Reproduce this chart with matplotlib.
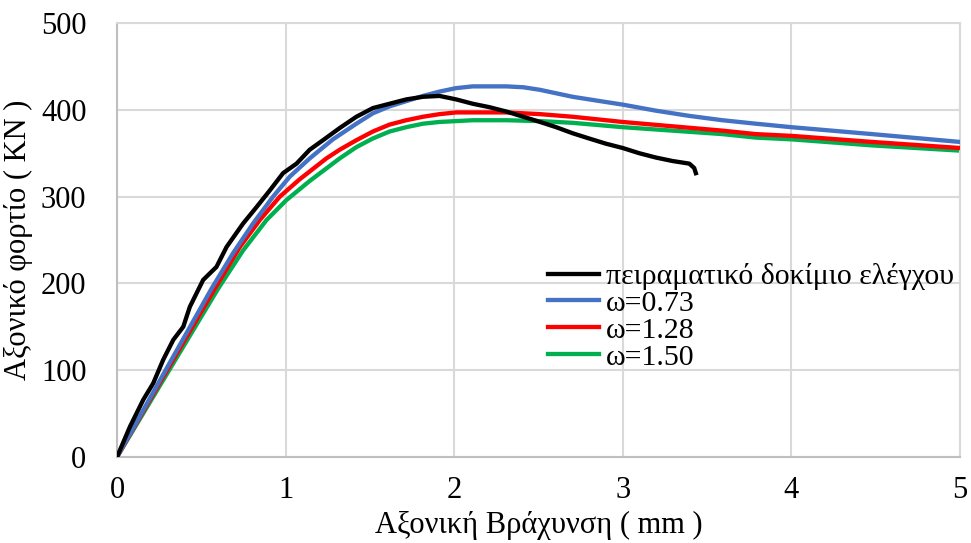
import matplotlib
matplotlib.use("Agg")
import matplotlib.pyplot as plt

plt.rcParams['font.family'] = ['Liberation Serif', 'DejaVu Serif']

# experimental specimen
exp_x = [0, 0.077, 0.156, 0.215, 0.274, 0.334, 0.393, 0.432, 0.511, 0.59, 0.65, 0.748, 0.828, 0.906,
         0.985, 1.065, 1.143, 1.222, 1.321, 1.42, 1.518, 1.617, 1.716, 1.815, 1.913, 2.012, 2.11,
         2.21, 2.31, 2.41, 2.51, 2.605, 2.703, 2.8, 2.9, 3.0, 3.098, 3.197, 3.296, 3.395, 3.424, 3.434]
exp_y = [0, 35, 66, 85, 112, 135, 150, 173, 204, 219, 242, 269, 288, 307,
         327, 338, 354, 365, 379, 392, 402, 407, 412, 415, 416, 412, 407,
         403, 398, 392, 386, 380, 373, 367, 361, 356, 350, 345, 341, 338, 333, 327]

# omega = 0.73
w073_x = [0, 0.3, 0.561, 0.689, 0.807, 0.926, 1.025, 1.143, 1.281, 1.42, 1.518, 1.617, 1.716, 1.815,
          1.913, 2.012, 2.11, 2.21, 2.31, 2.41, 2.51, 2.703, 2.9, 3.0, 3.197, 3.395, 3.592, 3.79,
          4.0, 4.48, 5.0]
w073_y = [0, 104, 194, 235, 269, 300, 323, 344, 366, 384, 396, 404, 410, 416,
          421, 425, 427, 427, 427, 426, 423, 415, 409, 406, 399, 393, 388, 384,
          380, 372, 363]

# omega = 1.28
w128_x = [0, 0.3, 0.58, 0.729, 0.847, 0.966, 1.084, 1.242, 1.321, 1.42, 1.518, 1.617, 1.716, 1.815,
          1.913, 2.012, 2.11, 2.31, 2.51, 2.703, 3.0, 3.296, 3.592, 3.79, 4.0, 4.48, 5.0]
w128_y = [0, 101, 194, 242, 273, 300, 320, 344, 354, 365, 375, 383, 388, 392,
          395, 397, 397, 397, 395, 392, 386, 381, 376, 372, 370, 363, 356]

# omega = 1.50
w150_x = [0, 0.3, 0.6, 0.748, 0.887, 1.005, 1.143, 1.321, 1.42, 1.518, 1.617, 1.716, 1.815,
          1.913, 2.012, 2.11, 2.31, 2.51, 2.703, 3.0, 3.296, 3.592, 3.79, 4.0, 4.48, 5.0]
w150_y = [0, 97, 194, 238, 273, 296, 318, 344, 357, 367, 375, 380, 384,
          386, 387, 388, 388, 387, 385, 380, 376, 372, 368, 366, 359, 353]

labels = ['πειραματικό δοκίμιο ελέγχου', 'ω=0.73', 'ω=1.28', 'ω=1.50']
xticks = [0, 1, 2, 3, 4, 5]
yticks = [0, 100, 200, 300, 400, 500]

fig = plt.figure(figsize=(9.71, 5.43), dpi=100)
ax = fig.add_axes([0.1205, 0.1584, 0.868, 0.7992])

lw = 3.1
ax.plot(exp_x, exp_y, color='#000000', lw=lw, label=labels[0], zorder=5, solid_joinstyle='round')
ax.plot(w073_x, w073_y, color='#4472C4', lw=lw, label=labels[1], zorder=4, solid_joinstyle='round')
ax.plot(w128_x, w128_y, color='#FF0000', lw=lw, label=labels[2], zorder=3, solid_joinstyle='round')
ax.plot(w150_x, w150_y, color='#00B050', lw=lw, label=labels[3], zorder=2, solid_joinstyle='round')

ax.set_xlim(0, 5)
ax.set_ylim(0, 500)
ax.set_xticks(xticks)
ax.set_yticks(yticks)
ax.grid(True, color='#d9d9d9', lw=1.5)
ax.set_axisbelow(True)
for side in ['top', 'right']:
    ax.spines[side].set_color('#d9d9d9')
    ax.spines[side].set_linewidth(1.5)
for side in ['left', 'bottom']:
    ax.spines[side].set_color('#bfbfbf')
    ax.spines[side].set_linewidth(1.5)

ax.tick_params(axis='both', length=0, labelsize=22)
ax.tick_params(axis='y', pad=22)
ax.tick_params(axis='x', pad=14)

ax.set_xlabel('Αξονική Βράχυνση ( mm )', fontsize=22, labelpad=4)
ax.set_ylabel('Αξονικό φορτίο ( KN )', fontsize=22, labelpad=6)

ax.legend(loc='upper left', bbox_to_anchor=(548 / 971, 1 - 263 / 543), bbox_transform=fig.transFigure,
          frameon=False, fontsize=21.5, borderpad=0, borderaxespad=0, handlelength=1.7,
          handletextpad=0.25, labelspacing=0.0)

fig.savefig('out.png', dpi=100)
